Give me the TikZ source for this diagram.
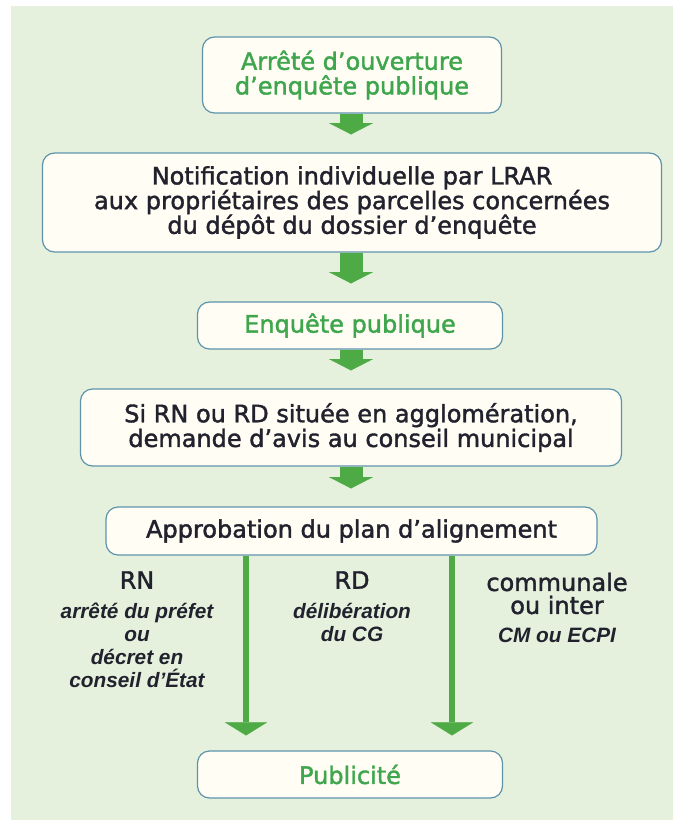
\documentclass[tikz,border=0pt]{standalone}
\usepackage{fontspec}
\setmainfont{DejaVu Sans}[BoldFont={DejaVu Sans}, BoldFeatures={FakeBold=1.6}]
\newfontfamily\notefont{Liberation Sans}
\usepackage{tikz}
\usetikzlibrary{arrows.meta}
\definecolor{panelgreen}{HTML}{E5F1DD}
\definecolor{boxfill}{HTML}{FFFDF4}
\definecolor{boxline}{HTML}{5E93AC}
\definecolor{titlegreen}{HTML}{3FA64E}
\definecolor{arrowgreen}{HTML}{4DAA45}
\definecolor{textdark}{HTML}{22222E}

\begin{document}
\begin{tikzpicture}[x=0.75pt, y=-0.75pt,
    box/.style={draw=boxline, line width=0.9pt, fill=boxfill, rounded corners=9pt,
        align=center, inner sep=0pt, text=textdark,
        font=\bfseries\fontsize{18pt}{18.5pt}\selectfont},
    titlebox/.style={box, text=titlegreen},
    fatarrow/.style={draw=arrowgreen, line width=17.25pt,
        -{Triangle[width=33pt, length=8.5pt, line width=0.1pt]}, shorten >=13.5pt},
    longarrow/.style={draw=arrowgreen, line width=4.5pt,
        -{Triangle[width=31.5pt, length=9.75pt, line width=0.1pt]}, shorten >=11.25pt},
    head/.style={text=textdark, align=center, inner sep=0pt,
        font=\bfseries\fontsize{18pt}{17.25pt}\selectfont},
    note/.style={text=textdark, align=center, inner sep=0pt,
        font=\notefont\bfseries\itshape\fontsize{15.6pt}{17.25pt}\selectfont}
]

    % Page and background panel
    \useasboundingbox (0,0) rectangle (673,820);
    \fill[white] (0,0) rectangle (673,820);
    \fill[panelgreen] (11,6) rectangle (673,820);

    % Boxes
    \node[titlebox, minimum width=224.25pt, minimum height=57pt] (arrete) at (352,75)
        {Arrêté d’ouverture\\d’enquête publique};
    \node[box, minimum width=464.25pt, minimum height=74.25pt] (notif) at (352,202.5)
        {Notification individuelle par LRAR\\aux propriétaires des parcelles concernées\\du dépôt du dossier d’enquête};
    \node[titlebox, minimum width=228.75pt, minimum height=35.25pt] (enquete) at (350,325.5)
        {Enquête publique};
    \node[box, minimum width=405.75pt, minimum height=57.75pt] (avis) at (351,427.5)
        {Si RN ou RD située en agglomération,\\demande d’avis au conseil municipal};
    \node[box, minimum width=368.25pt, minimum height=36pt] (approb) at (351.5,531)
        {Approbation du plan d’alignement};
    \node[titlebox, minimum width=228.75pt, minimum height=35.25pt] (pub) at (350,774.5)
        {Publicité};

    % Arrows between the steps
    \coordinate (mid) at (351,0);
    \draw[fatarrow] (arrete.south -| mid) -- (notif.north -| mid);
    \draw[fatarrow] (notif.south -| mid) -- (enquete.north -| mid);
    \draw[fatarrow] (enquete.south -| mid) -- (avis.north -| mid);
    \draw[fatarrow] (avis.south -| mid) -- (approb.north -| mid);

    % Two long arrows down to the last box
    \coordinate (leftx) at (246,0);
    \coordinate (rightx) at (452,0);
    \draw[longarrow] (approb.south -| leftx) -- (pub.north -| leftx);
    \draw[longarrow] (approb.south -| rightx) -- (pub.north -| rightx);

    % Labels of the three cases
    \node[head] (rn) at (137,580) {RN};
    \node[note, anchor=north] (rnnote) at (137,603)
        {arrêté du préfet\\ou\\décret en\\conseil d’État};
    \node[head] (rd) at (352,580) {RD};
    \node[note, anchor=north] (rdnote) at (352,603) {délibération\\du CG};
    \node[head] (com) at (557,593.5) {communale\\ou inter};
    \node[note] (comnote) at (557,635) {CM ou ECPI};

\end{tikzpicture}
\end{document}
